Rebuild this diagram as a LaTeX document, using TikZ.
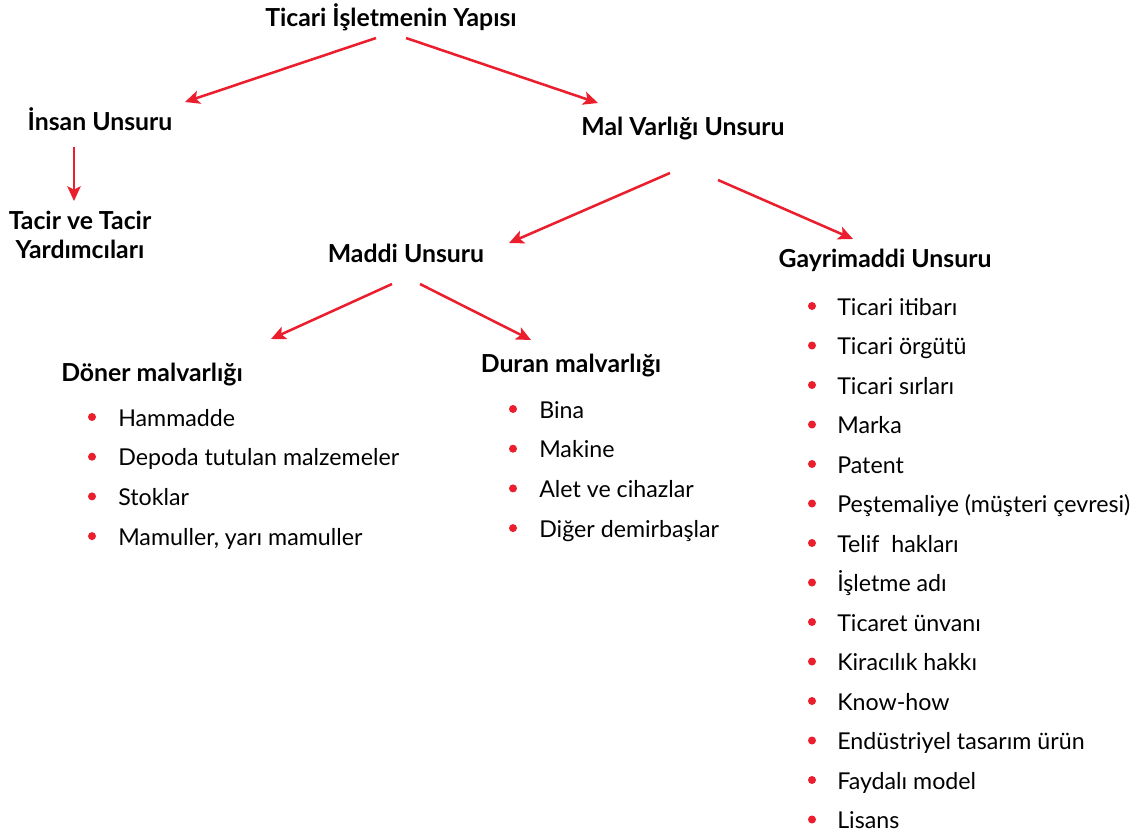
\documentclass[tikz,border=0pt]{standalone}
\usepackage{fontspec}
\setmainfont{Lato}
\usetikzlibrary{arrows.meta}
\definecolor{arrowred}{RGB}{234,30,45}
\begin{document}
\begin{tikzpicture}[x=0.75pt,y=-0.75pt,
  hdr/.style={font=\fontsize{18.6}{22}\selectfont\bfseries, anchor=base, inner sep=0pt},
  item/.style={font=\fontsize{17.4}{20}\selectfont, anchor=base west, inner sep=0pt},
  conn/.style={draw=arrowred, line width=1.9pt, -{Stealth[length=11pt,width=10pt,inset=2.5pt]}},
  dot/.style={circle, fill=arrowred, inner sep=0pt, minimum size=6pt}
]
\useasboundingbox (0,0) rectangle (1140,833);

% headers
\node[hdr] (title) at (391,26) {Ticari İşletmenin Yapısı};
\node[hdr] (insan) at (100,130) {İnsan Unsuru};
\node[hdr] (mal) at (683,135) {Mal Varlığı Unsuru};
\node[hdr] (tacir) at (80,229) {Tacir ve Tacir};
\node[hdr] (tacir2) at (80,258) {Yardımcıları};
\node[hdr] (maddi) at (406,262) {Maddi Unsuru};
\node[hdr] (gayri) at (885,267) {Gayrimaddi Unsuru};
\node[hdr] (doner) at (152,381) {Döner malvarlığı};
\node[hdr] (duran) at (571,372) {Duran malvarlığı};

% connector endpoints
\coordinate (a1s) at (376,38);  \coordinate (a1e) at (185,102);
\coordinate (a2s) at (406,38);  \coordinate (a2e) at (598,103);
\coordinate (a3s) at (74,147);  \coordinate (a3e) at (74,201);
\coordinate (a4s) at (670,173); \coordinate (a4e) at (509,243);
\coordinate (a5s) at (718,180); \coordinate (a5e) at (853,239);
\coordinate (a6s) at (392,284); \coordinate (a6e) at (271,339);
\coordinate (a7s) at (420,284); \coordinate (a7e) at (531,340);

\draw[conn] (a1s) -- (a1e);
\draw[conn] (a2s) -- (a2e);
\draw[conn] (a3s) -- (a3e);
\draw[conn] (a4s) -- (a4e);
\draw[conn] (a5s) -- (a5e);
\draw[conn] (a6s) -- (a6e);
\draw[conn] (a7s) -- (a7e);

% Döner list
\foreach \t [count=\i] in {Hammadde, Depoda tutulan malzemeler, Stoklar, {Mamuller, yarı mamuller}} {
  \pgfmathsetmacro{\yy}{426+39.7*(\i-1)}
  \node[dot] (dd\i) at (92,\yy-9) {};
  \node[item] (dt\i) at (118,\yy) {\t};
}

% Duran list
\foreach \t [count=\i] in {Bina, Makine, Alet ve cihazlar, Diğer demirbaşlar} {
  \pgfmathsetmacro{\yy}{418+39.7*(\i-1)}
  \node[dot] (ud\i) at (513,\yy-9) {};
  \node[item] (ut\i) at (539,\yy) {\t};
}

% Gayrimaddi list
\foreach \t [count=\i] in {Ticari itibarı, Ticari örgütü, Ticari sırları, Marka, Patent, Peştemaliye (müşteri çevresi), Telif~~hakları, İşletme adı, Ticaret ünvanı, Kiracılık hakkı, Know-how, Endüstriyel tasarım ürün, Faydalı model, Lisans} {
  \pgfmathsetmacro{\yy}{315+39.5*(\i-1)}
  \node[dot] (gd\i) at (812,\yy-9) {};
  \node[item] (gt\i) at (837,\yy) {\t};
}
\end{tikzpicture}
\end{document}
